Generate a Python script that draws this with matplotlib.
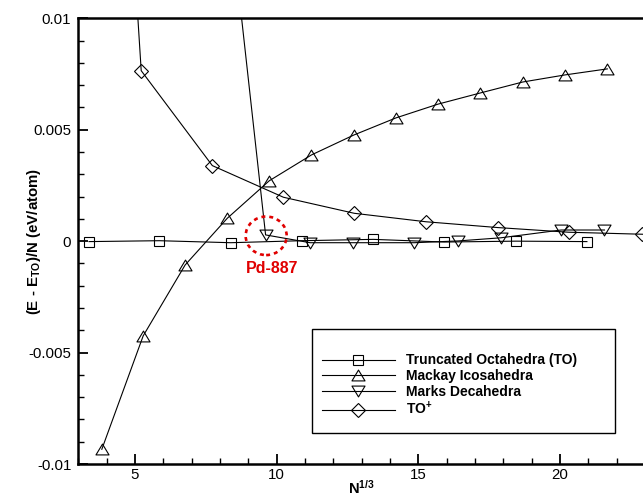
import matplotlib
matplotlib.use("Agg")
import matplotlib.pyplot as plt
from matplotlib.patches import Ellipse, Rectangle
from matplotlib.ticker import MultipleLocator, FuncFormatter
from matplotlib.path import Path

plt.rcParams['font.family'] = ['Liberation Sans', 'DejaVu Sans']
plt.rcParams['mathtext.fontset'] = 'custom'
plt.rcParams['mathtext.rm'] = 'Liberation Sans'
plt.rcParams['mathtext.bf'] = 'Liberation Sans:bold'
plt.rcParams['mathtext.it'] = 'Liberation Sans:italic'
plt.rcParams['axes.unicode_minus'] = False

# N^(1/3) and relative energy per atom (eV/atom) for each cluster family
to_x = [3.38, 5.86, 8.38, 10.88, 13.41, 15.92, 18.44, 20.95]
to_y = [-0.00002, 0.00002, -0.00007, 0.00002, 0.00008, -0.00004, 0.0, -0.00002]

ico_x = [3.83, 5.29, 6.77, 8.26, 9.74, 11.23, 12.72, 14.21, 15.70, 17.19, 18.68, 20.18, 21.67]
ico_y = [-0.00934, -0.00425, -0.00107, 0.00103, 0.00271, 0.00387, 0.00476,
         0.00553, 0.00615, 0.00665, 0.00714, 0.00746, 0.00773]

dec_x = [7.30, 9.61, 11.18, 12.71, 14.86, 16.41, 17.91, 20.04, 21.57]
dec_y = [0.0268, 0.00028, -0.00007, -0.00007, -0.00007, 0.00001, 0.00015, 0.00050, 0.00050]

top_x = [2.71, 5.22, 7.73, 10.24, 12.74, 15.27, 17.80, 20.31, 22.91]
top_y = [0.058, 0.00765, 0.00339, 0.00197, 0.00125, 0.00087, 0.00061, 0.00040, 0.00031]

series_labels = ['Truncated Octahedra (TO)', 'Mackay Icosahedra',
                 'Marks Decahedra', r'TO$^{\mathbf{+}}$']

highlight_label = 'Pd-887'
highlight_xy = (9.63, 0.00024)

# wider-than-tall triangles
tri_up = Path([(-1, -0.83), (1, -0.83), (0, 0.83), (-1, -0.83)],
              [Path.MOVETO, Path.LINETO, Path.LINETO, Path.CLOSEPOLY])
tri_dn = Path([(-1, 0.83), (1, 0.83), (0, -0.83), (-1, 0.83)],
              [Path.MOVETO, Path.LINETO, Path.LINETO, Path.CLOSEPOLY])

fig = plt.figure(figsize=(6.43, 4.97), dpi=100)
ax = fig.add_axes([78.3 / 643, 33 / 497, 566.7 / 643, 445.7 / 497])

common = dict(color='black', lw=0.8, mfc='none', mec='black', mew=0.8)
ax.plot(to_x, to_y, marker='s', ms=7.2, label=series_labels[0], **common)
ax.plot(ico_x, ico_y, marker=tri_up, ms=9.4, label=series_labels[1], **common)
ax.plot(dec_x, dec_y, marker=tri_dn, ms=9.4, label=series_labels[2], **common)
ax.plot(top_x, top_y, marker='D', ms=7.0, label=series_labels[3], **common)

ax.set_xlim(3, 23)
ax.set_ylim(-0.01, 0.01)

ax.xaxis.set_major_locator(MultipleLocator(5))
ax.xaxis.set_minor_locator(MultipleLocator(1))
ax.yaxis.set_major_locator(MultipleLocator(0.005))
ax.yaxis.set_minor_locator(MultipleLocator(0.001))
ax.yaxis.set_major_formatter(FuncFormatter(lambda v, p: '%g' % round(v, 6)))
ax.xaxis.set_major_formatter(FuncFormatter(lambda v, p: '%g' % v))

ax.tick_params(which='both', direction='in', width=1.3, top=False, right=False)
ax.tick_params(which='major', length=7.5)
ax.tick_params(which='minor', length=4.5, width=1.0)
ax.tick_params(axis='x', which='major', pad=3, labelsize=10.8)
ax.tick_params(axis='y', which='major', pad=5, labelsize=10.8)

for s in ax.spines.values():
    s.set_linewidth(1.8)

ax.set_xlabel(r'N$^{\mathbf{1/3}}$', fontsize=10.5, fontweight='bold')
ax.xaxis.set_label_coords(0.5, -0.066)
ax.xaxis.label.set_va('baseline')
ax.set_ylabel(r'(E - E$_{\mathbf{TO}}$)/N (eV/atom)', fontsize=10.8, fontweight='bold')
ax.yaxis.set_label_coords(-0.062, 0.5)

# highlighted cluster
red = '#e00000'
ax.add_patch(Ellipse(highlight_xy, 1.447, 0.00173, fill=False, edgecolor=red,
                     lw=1.9, linestyle=(0, (1.5, 1.5)), zorder=5))
ax.text(9.83, -0.00122, highlight_label, color=red, fontsize=11.5,
        fontweight='bold', ha='center', va='center')

# legend frame and entries
ax.add_patch(Rectangle((0.412, 0.0696), 0.535, 0.2333, transform=ax.transAxes,
                       fill=False, edgecolor='black', lw=1.0, zorder=6))
leg = ax.legend(loc='center left', bbox_to_anchor=(0.4295, 0.176), frameon=False,
                prop={'weight': 'bold', 'size': 10}, handlelength=5.25,
                handletextpad=0.8, labelspacing=0.12, borderpad=0,
                borderaxespad=0, numpoints=1)

fig.savefig('out.png', dpi=100)
